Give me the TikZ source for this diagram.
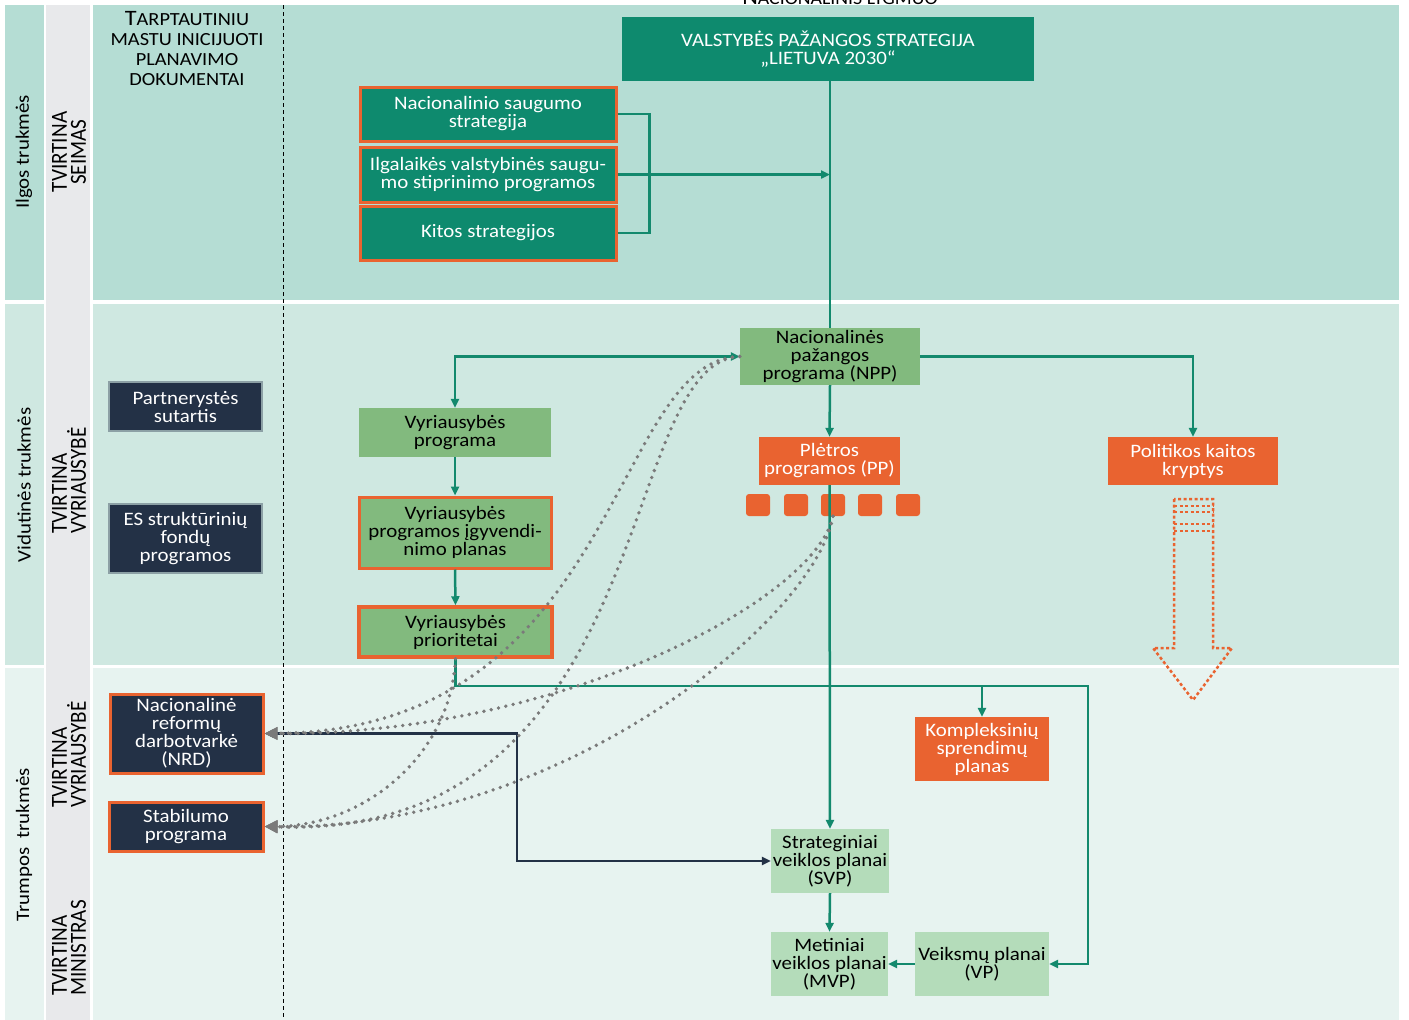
\documentclass[tikz,border=0pt]{standalone}
\usepackage{fontspec}
\setmainfont{Carlito}[FakeStretch=1.1]
\newfontfamily\schmal{Carlito}[FakeStretch=0.92]
\usepackage{tikz}
\usetikzlibrary{positioning, backgrounds, arrows.meta, calc}

\definecolor{band1}{HTML}{B5DDD4}
\definecolor{band2}{HTML}{CFE8E1}
\definecolor{band3}{HTML}{E7F3F0}
\definecolor{spalte}{HTML}{E8E9EB}
\definecolor{dgruen}{HTML}{0E8A6E}
\definecolor{mgruen}{HTML}{82BA7E}
\definecolor{hgruen}{HTML}{B4DCBA}
\definecolor{orng}{HTML}{E96330}
\definecolor{marine}{HTML}{233146}
\definecolor{grenze}{HTML}{8CA0A5}
\definecolor{grau}{HTML}{7A7A7A}
\definecolor{lgruen}{HTML}{13896D}

\newcommand\boxschrift{\fontsize{19}{18}\selectfont}

\tikzset{kasten/.style={rectangle, inner sep=0, align=center, font=\boxschrift},
	dunkel/.style={kasten, fill=dgruen, text=white},
	mittel/.style={kasten, fill=mgruen},
	hell/.style={kasten, fill=hgruen},
	rot/.style={kasten, fill=orng, text=white},
	nacht/.style={kasten, fill=marine, text=white},
	rand/.style={draw=orng, line width=3pt},
	quadrat/.style={rectangle, fill=orng, rounded corners=3pt, minimum width=24pt, minimum height=22pt, inner sep=0},
	linie/.style={draw=lgruen, line width=2.5pt},
	nachtlinie/.style={draw=marine, line width=2.5pt},
	punkte/.style={draw=grau, line width=3.8pt, line cap=round, dash pattern=on 0pt off 7.5pt, -{Triangle[length=13pt,width=12pt]}},
	punktrot/.style={draw=orng, line width=2.5pt, dash pattern=on 3pt off 2.5pt},
	seite/.style={rotate=90, inner sep=0, font=\boxschrift},
	amt/.style={rotate=90, inner sep=0, font=\schmal\fontsize{23}{19}\selectfont} }

\begin{document}
\begin{tikzpicture}[x=1pt, y=-1pt, >={Triangle[length=9pt,width=8pt]}]
  \useasboundingbox (0,0) rectangle (1409,1020);

  % Baender
  \fill[band1] (5,5) rectangle (44,300);
  \fill[band2] (5,304) rectangle (44,665);
  \fill[band3] (5,668) rectangle (44,1020);
  \fill[spalte] (46,5) rectangle (90,1020);
  \fill[band1] (93,5) rectangle (1399,300);
  \fill[band2] (93,304) rectangle (1399,665);
  \fill[band3] (93,668) rectangle (1399,1020);
  \draw[line width=0.9pt, dash pattern=on 4pt off 3pt] (283,5) -- (283,1020);

  \node (lyg) [anchor=base, font=\fontsize{18}{20}\selectfont] at (840,4) {{\fontsize{22}{20}\selectfont N}ACIONALINIS LYGMUO};

  \node (t1) [seite] at (24,152) {Ilgos trukmės};
  \node (t2) [seite] at (24,485) {Vidutinės trukmės};
  \node (t3) [seite] at (24,845) {Trumpos~~trukmės};

  \node (s1) [amt, align=center] at (69,152) {TVIRTINA\\SEIMAS};
  \node (s2) [amt, align=left, anchor=west] at (69,534) {TVIRTINA\\VYRIAUSYBĖ};
  \node (s3) [amt, align=left, anchor=west] at (69,808) {TVIRTINA\\VYRIAUSYBĖ};
  \node (s4) [amt, align=left, anchor=west] at (69,996) {TVIRTINA\\MINISTRAS};

  \node (tarp) [align=center, inner sep=0, font=\fontsize{18.5}{20}\selectfont] at (187,49)
  	{{\fontsize{22}{20}\selectfont T}ARPTAUTINIU\\MASTU INICIJUOTI\\PLANAVIMO\\DOKUMENTAI};

  % Dokumente
  \node (vps) [dunkel, minimum width=412pt, minimum height=64pt] at (828,49) {VALSTYBĖS PAŽANGOS STRATEGIJA\\„LIETUVA 2030“};
  \node (nss) [dunkel, rand, minimum width=256pt, minimum height=54pt] at (488,114) {Nacionalinio saugumo\\strategija};
  \node (ilg) [dunkel, rand, minimum width=256pt, minimum height=55pt] at (488,174.5) {Ilgalaikės valstybinės saugu-\\mo stiprinimo programos};
  \node (kit) [dunkel, rand, minimum width=256pt, minimum height=54pt] at (488,233) {Kitos strategijos};

  \node (npp) [mittel, minimum width=180pt, minimum height=57pt] at (830,356.5) {Nacionalinės\\pažangos\\programa (NPP)};
  \node (pp) [rot, minimum width=141pt, minimum height=48pt] at (829.5,461) {Plėtros\\programos (PP)};
  \node (pkk) [rot, minimum width=170pt, minimum height=48pt] at (1193,461) {Politikos kaitos\\kryptys};

  \node (q1) [quadrat] at (758,505) {};
  \node (q2) [quadrat] at (796,505) {};
  \node (q3) [quadrat] at (833,505) {};
  \node (q4) [quadrat] at (870,505) {};
  \node (q5) [quadrat] at (908,505) {};

  \node (vprog) [mittel, minimum width=192pt, minimum height=49pt] at (455,432.5) {Vyriausybės\\programa};
  \node (vpip) [mittel, rand, minimum width=192pt, minimum height=71pt] at (455,532.5) {Vyriausybės\\programos įgyvendi-\\nimo planas};
  \node (vprio) [mittel, rand, line width=3.5pt, minimum width=193pt, minimum height=50pt] at (455.5,632) {Vyriausybės\\prioritetai};

  \node (part) [nacht, draw=grenze, line width=2.5pt, minimum width=153pt, minimum height=49pt] at (185.5,406.5) {Partnerystės\\sutartis};
  \node (esf) [nacht, draw=grenze, line width=2.5pt, minimum width=153pt, minimum height=69pt] at (185.5,538.5) {ES struktūrinių\\fondų\\programos};
  \node (nrd) [nacht, rand, minimum width=153pt, minimum height=79pt] at (186.5,733.5) {Nacionalinė\\reformų\\darbotvarkė\\(NRD)};
  \node (stab) [nacht, rand, minimum width=154pt, minimum height=49pt] at (186,826.5) {Stabilumo\\programa};

  \node (ksp) [rot, minimum width=134pt, minimum height=64pt] at (982,749) {Kompleksinių\\sprendimų\\planas};
  \node (svp) [hell, minimum width=118pt, minimum height=64pt] at (830,861) {Strateginiai\\veiklos planai\\(SVP)};
  \node (mvp) [hell, minimum width=117pt, minimum height=64pt] at (829.5,964) {Metiniai\\veiklos planai\\(MVP)};
  \node (vep) [hell, minimum width=134pt, minimum height=64pt] at (982,964) {Veiksmų planai\\(VP)};

  \coordinate (k1) at (1088,686);
  \coordinate (k2) at (517,733.5);

  % Verbindungen
  \draw[linie] (npp.north |- vps.south) -- (npp.north);
  \draw[linie] (nss.east) -- ++(32,0) |- (kit.east);
  \draw[linie, ->] (ilg.east) -- (ilg.east -| npp.north);
  \draw[linie, <->] (vprog.north) |- (npp.west);
  \draw[linie, ->] (npp.east) -| (pkk.north);
  \draw[linie, ->] (npp.south) -- (pp.north);
  \draw[linie, ->] (pp.south) -- (svp.north);
  \draw[linie, ->] (vprog.south) -- (vpip.north);
  \draw[linie, ->] (vpip.south) -- (vprio.north);
  \draw[linie, ->] (vprio.south) |- (k1) |- (vep.east);
  \draw[linie, ->] (ksp.north |- k1) -- (ksp.north);
  \draw[linie, ->] (svp.south) -- (mvp.north);
  \draw[linie, ->] (vep.west) -- (mvp.east);
  \draw[nachtlinie, <->] (nrd.east) -- (k2) |- (svp.west);

  \draw[punkte] (npp.west) .. controls (610,360) and (620,730) .. (nrd.east);
  \draw[punkte] (npp.west) .. controls (615,362) and (660,840) .. (stab.east);
  \draw[punkte] (q3.south) .. controls (815,600) and (560,735) .. (nrd.east);
  \draw[punkte] (q3.south) .. controls (815,620) and (560,830) .. (stab.east);
  \draw[punkte] (vprio.south) .. controls (450,760) and (360,826) .. (stab.east);

  % Pfeil unter den Politikos kaitos kryptys
  \draw[punktrot] (1174,499) -- (1174,648) -- (1153,648) -- (1193,700) -- (1232,648) -- (1213,648) -- (1213,499) -- cycle;
  \draw[punktrot] (1174,506) -- (1213,506);
  \draw[punktrot] (1174,512) -- (1213,512);
  \draw[punktrot] (1174,524) -- (1213,524);
  \draw[punktrot] (1174,531) -- (1213,531);
\end{tikzpicture}
\end{document}
